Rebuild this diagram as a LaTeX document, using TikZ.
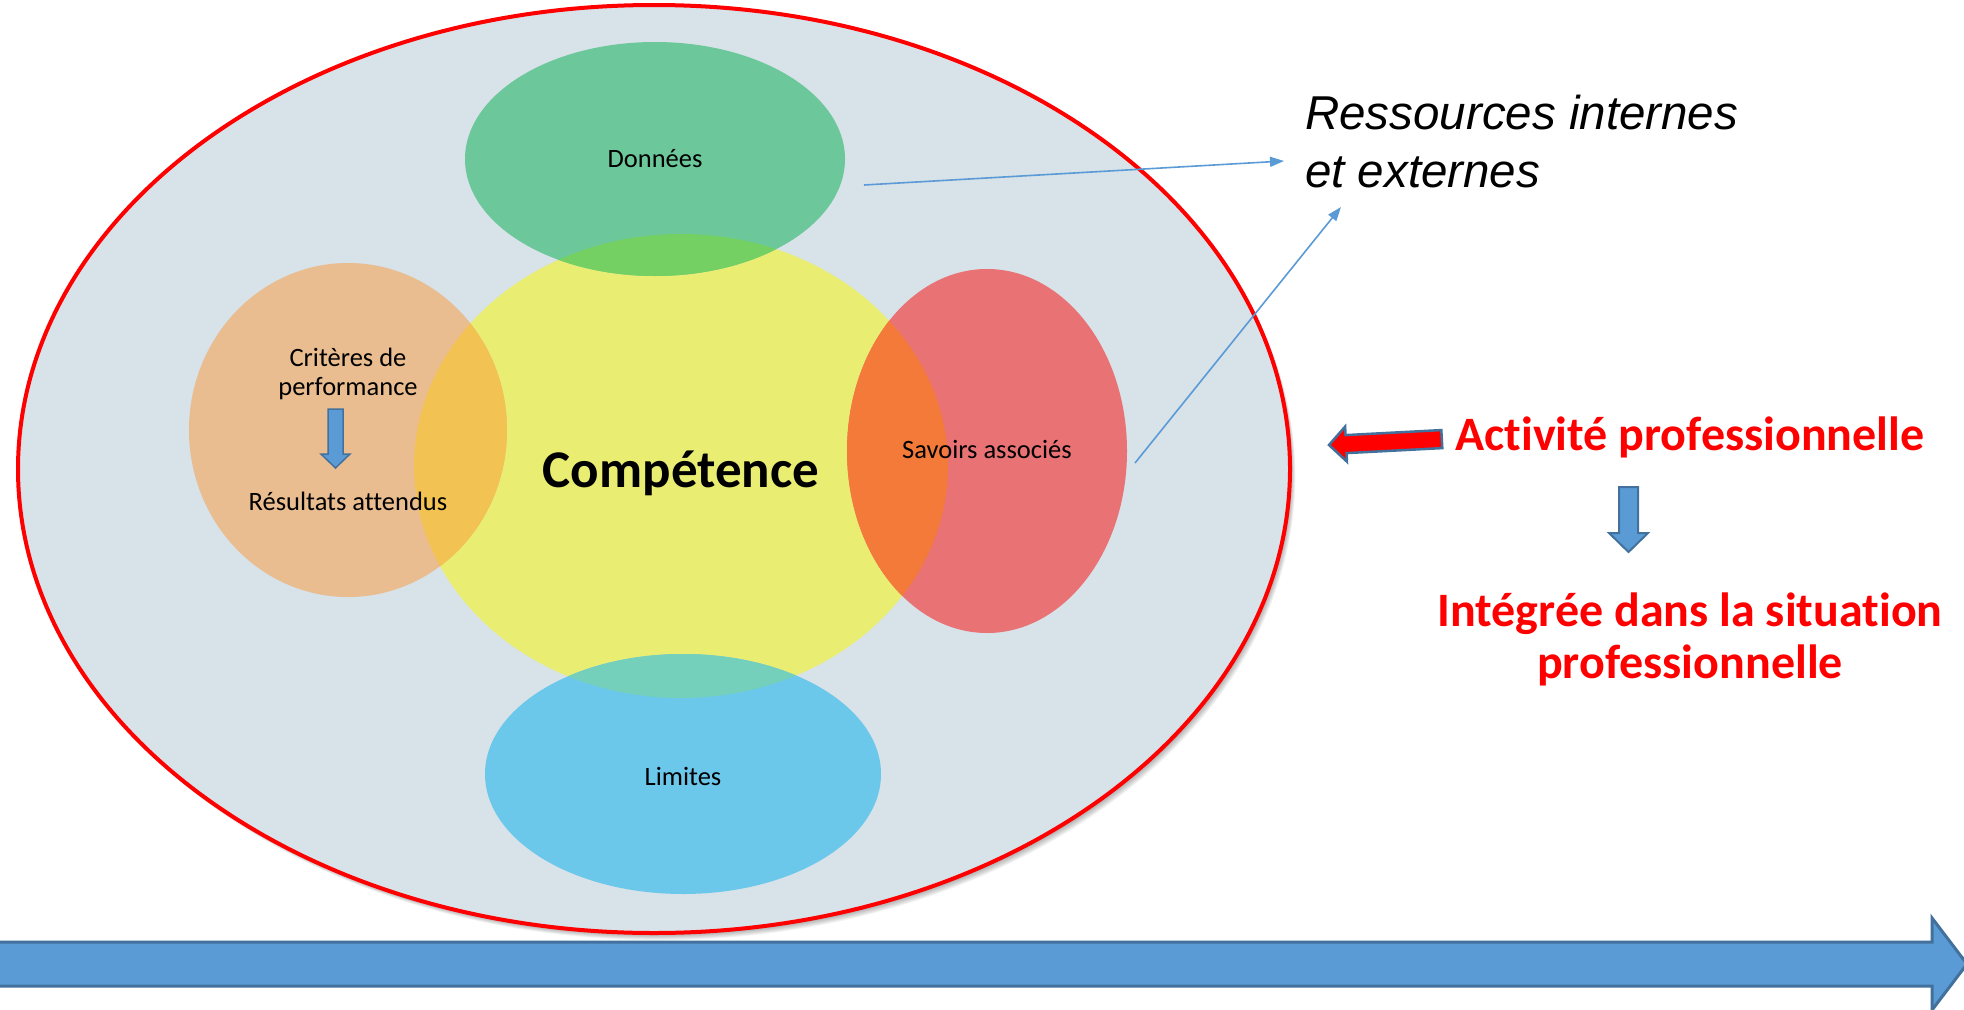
\documentclass[tikz,border=0pt]{standalone}
\usepackage{fontspec}
\setmainfont{Carlito}[Ligatures={NoCommon}]
\newfontfamily\arialfont{Liberation Sans}
\usetikzlibrary{arrows.meta}
\definecolor{outerfill}{HTML}{D7E2E9}
\definecolor{cgreen}{HTML}{6CC89B}
\definecolor{cyellow}{HTML}{E9EE73}
\definecolor{corange}{HTML}{E9BD8F}
\definecolor{cred}{HTML}{E87274}
\definecolor{cblue}{HTML}{6CC8EA}
\definecolor{ogreen}{HTML}{74D062}
\definecolor{oorange}{HTML}{F2C252}
\definecolor{ored}{HTML}{F47A3A}
\definecolor{oblue}{HTML}{74D0BA}
\definecolor{arrowfill}{HTML}{5B9BD5}
\definecolor{arrowedge}{HTML}{41719C}
\tikzset{
  label/.style={inner sep=0pt, text=black, font=\fontsize{26.5}{29}\selectfont},
  redtext/.style={inner sep=0pt, text=red, font=\fontsize{48}{52}\selectfont\bfseries},
  conn/.style={draw=arrowfill, line width=1.6pt, -{Triangle[length=14pt,width=10pt]}},
  blockarrow/.style={fill=arrowfill, draw=arrowedge, line width=2pt, line join=miter},
}
\begin{document}
\begin{tikzpicture}[x=1pt,y=-1pt]
\useasboundingbox (0,0) rectangle (1964,1009);
\fill[white] (0,0) rectangle (1964,1009);

% shadow of outer ellipse
\foreach \i in {1,...,9}
  \fill[black,opacity=0.045] (654+\i*0.6,469+\i*0.8) ellipse [x radius=636pt, y radius=464pt];
% outer ellipse
\fill[outerfill] (654,469) ellipse [x radius=636pt, y radius=464pt];

% inner ellipses
\fill[cyellow] (681,466) ellipse [x radius=267pt, y radius=232pt];
\fill[cgreen]  (655,159) ellipse [x radius=190pt, y radius=117pt];
\fill[corange] (348,430) ellipse [x radius=159pt, y radius=167pt];
\fill[cred]    (987,451) ellipse [x radius=140pt, y radius=182pt];
\fill[cblue]   (683,774) ellipse [x radius=198pt, y radius=120pt];

% overlaps with the central ellipse
\begin{scope}
  \clip (681,466) ellipse [x radius=267pt, y radius=232pt];
  \fill[ogreen]  (655,159) ellipse [x radius=190pt, y radius=117pt];
  \fill[oorange] (348,430) ellipse [x radius=159pt, y radius=167pt];
  \fill[ored]    (987,451) ellipse [x radius=140pt, y radius=182pt];
  \fill[oblue]   (683,774) ellipse [x radius=198pt, y radius=120pt];
\end{scope}

\draw[red, line width=4pt] (654,469) ellipse [x radius=636pt, y radius=464pt];

% labels (anchor=base of a multi-line node is the last line's baseline)
\node[label, anchor=base] (donnees) at (655,167) {Données};
\node[label, anchor=base, align=center] (criteres) at (348,395) {Critères de\\performance};
\node[label, anchor=base] (resultats) at (348,510) {Résultats attendus};
\node[label, anchor=base] (savoirs) at (987,458) {Savoirs associés};
\node[label, anchor=base] (limites) at (683,785) {Limites};
\node[inner sep=0pt, anchor=base, font=\fontsize{53}{60}\selectfont\bfseries] (competence) at (681,487) {Compétence};

% small arrow inside the orange ellipse
\draw[blockarrow, line width=1.5pt] (328,409) -- (343,409) -- (343,454) -- (350,454) -- (335.5,468) -- (321,454) -- (328,454) -- cycle;

% resources text
\node[inner sep=0pt, anchor=north west, align=left,
      font=\arialfont\itshape\fontsize{47.5}{58}\selectfont] (ressources) at (1305,95)
      {Ressources internes\\et externes};

% connectors
\coordinate (c1s) at (864,185);
\coordinate (c1e) at (1284,161);
\coordinate (c2s) at (1135,463);
\coordinate (c2e) at (1341,207);
\draw[conn] (c1s) -- (c1e);
\draw[conn] (c2s) -- (c2e);

% right-hand texts
\node[redtext, anchor=base] (activite) at (1690,450) {Activité professionnelle};
\node[redtext, anchor=base, align=center] (integree) at (1690,678) {Intégrée dans la situation\\professionnelle};

% red arrow pointing left
\draw[fill=red, draw=arrowedge, line width=2.5pt, line join=miter]
  (1329,445) -- (1345.1,426.6) -- (1345.5,435.1) -- (1441.3,430.1) -- (1442.3,448.1)
  -- (1346.5,453.1) -- (1346.9,461.6) -- cycle;

% blue down arrow
\draw[blockarrow] (1619,487) -- (1638,487) -- (1638,533) -- (1648,533) -- (1628.5,552)
  -- (1609,533) -- (1619,533) -- cycle;

% bottom long arrow
\draw[blockarrow, line width=3pt] (-10,942) -- (1932,942) -- (1932,918) -- (1967,964)
  -- (1932,1010) -- (1932,986) -- (-10,986) -- cycle;
\end{tikzpicture}
\end{document}
